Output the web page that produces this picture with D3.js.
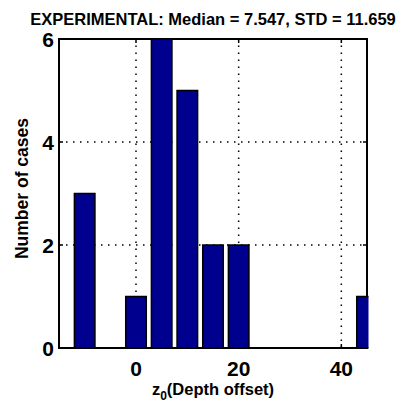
<!DOCTYPE html>
<html><head><meta charset="utf-8">
<script src="https://cdn.jsdelivr.net/npm/d3@7"></script>
<style>
html,body{margin:0;padding:0;background:#fff;}
text{font-family:"Liberation Sans",Arial,Helvetica,sans-serif;font-weight:bold;fill:#000;}
</style></head>
<body><svg id="chart" width="403" height="407"></svg>
<script>
const binCenters = [-10, -5, 0, 5, 10, 15, 20, 25, 30, 35, 40, 45];
const counts     = [3, 0, 1, 6, 5, 2, 2, 0, 0, 0, 0, 1];
const xTicks = [0, 20, 40];
const yTicks = [0, 2, 4, 6];
const titleText = "EXPERIMENTAL: Median = 7.547, STD = 11.659";
const yLabelText = "Number of cases";

const svg = d3.select("#chart");
const L = 59, R = 367, T = 39, B = 348;
const x = d3.scaleLinear().domain([-15, 45]).range([L, R]);
const y = d3.scaleLinear().domain([0, 6]).range([B, T]);
const binW = 5, barFrac = 0.8;

svg.append("defs").append("clipPath").attr("id","clip")
  .append("rect").attr("x", L).attr("y", T - 1).attr("width", R - L + 1.5).attr("height", B - T + 2);

// gridlines
const grid = svg.append("g").attr("stroke","#000").attr("stroke-width",1.5).attr("stroke-dasharray","1.5,5.5");
grid.selectAll("line.gx").data(xTicks).join("line")
  .attr("x1", d => x(d)).attr("x2", d => x(d)).attr("y1", B).attr("y2", T);
grid.selectAll("line.gy").data(yTicks.filter(d => d > 0 && d < 6)).join("line")
  .attr("x1", L).attr("x2", R).attr("y1", d => y(d)).attr("y2", d => y(d));

// axes box
svg.append("rect").attr("x", L).attr("y", T).attr("width", R - L).attr("height", B - T)
  .attr("fill","none").attr("stroke","#000").attr("stroke-width",2);

// ticks inside
const tk = svg.append("g").attr("stroke","#000").attr("stroke-width",1.5);
xTicks.forEach(d => {
  tk.append("line").attr("x1", x(d)).attr("x2", x(d)).attr("y1", B).attr("y2", B - 4);
  tk.append("line").attr("x1", x(d)).attr("x2", x(d)).attr("y1", T).attr("y2", T + 4);
});
yTicks.forEach(d => {
  tk.append("line").attr("x1", L).attr("x2", L + 4).attr("y1", y(d)).attr("y2", y(d));
  tk.append("line").attr("x1", R).attr("x2", R - 4).attr("y1", y(d)).attr("y2", y(d));
});

// bars
const data = binCenters.map((c, i) => ({c, v: counts[i]})).filter(d => d.v > 0);
svg.append("g").attr("clip-path","url(#clip)")
  .selectAll("rect").data(data).join("rect")
  .attr("x", d => x(d.c - binW * barFrac / 2))
  .attr("width", d => x(d.c + binW * barFrac / 2) - x(d.c - binW * barFrac / 2))
  .attr("y", d => y(d.v))
  .attr("height", d => y(0) - y(d.v))
  .attr("fill","#00008F").attr("stroke","#000").attr("stroke-width",1.5);

// bottom axis line redraw on top
svg.append("line").attr("x1", L - 1).attr("x2", R + 1).attr("y1", B).attr("y2", B)
  .attr("stroke","#000").attr("stroke-width",2);

// tick labels
svg.append("g").selectAll("text").data(xTicks).join("text")
  .attr("x", d => x(d)).attr("y", 376).attr("text-anchor","middle")
  .style("font-size","21px").text(d => d);
svg.append("g").selectAll("text").data(yTicks).join("text")
  .attr("x", 54).attr("y", d => y(d)).attr("dy","0.36em").attr("text-anchor","end")
  .style("font-size","21px").text(d => d);

// title
svg.append("text").attr("x", (L + R) / 2).attr("y", 25).attr("text-anchor","middle")
  .style("font-size","16.5px").text(titleText);

// y label
svg.append("text").attr("transform", `translate(28,${(T + B) / 2 - 5}) rotate(-90)`)
  .attr("text-anchor","middle").style("font-size","17.5px").text(yLabelText);

// x label with subscript
const xl = svg.append("text").attr("x", (L + R) / 2).attr("y", 395).attr("text-anchor","middle")
  .style("font-size","16.5px");
xl.append("tspan").text("z");
xl.append("tspan").attr("dy", 5).style("font-size","12px").text("0");
xl.append("tspan").attr("dy", -5).text("(Depth offset)");
</script></body></html>
